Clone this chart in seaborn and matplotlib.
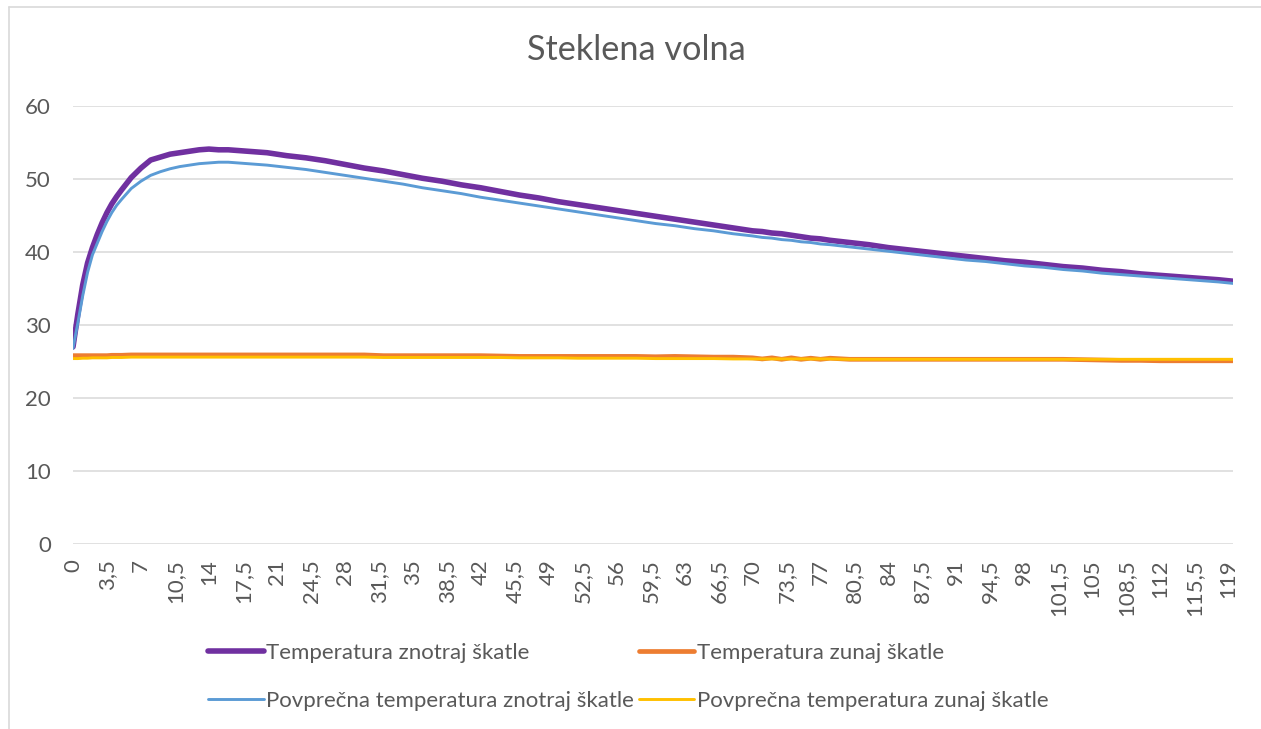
import matplotlib
matplotlib.use("Agg")
import matplotlib.pyplot as plt
import seaborn as sns
import pandas as pd
from matplotlib.lines import Line2D

# ---------------- data ----------------
time = [0, 0.5, 1, 1.5, 2, 2.5, 3, 3.5, 4, 4.5, 5,
        6, 7, 8, 9, 10, 11, 12, 13, 14, 15, 16,
        18, 20, 22, 24, 26, 28, 30, 32, 34, 36, 38, 40, 42, 44, 46, 48, 50, 52, 54, 56, 58, 60,
        62, 64, 66, 68, 70,
        71, 72, 73, 74, 75, 76, 77, 78,
        80, 82, 84, 86, 88, 90, 92, 94, 96, 98, 100, 102, 104, 106, 108, 110, 112, 114, 116, 118,
        119.5]

temp_inside = [27.0, 31.5, 35.5, 38.5, 40.6, 42.4, 44.0, 45.4, 46.6, 47.6, 48.5,
               50.2, 51.5, 52.6, 53.0, 53.4, 53.6, 53.8, 54.0, 54.1, 54.0, 54.0,
               53.8, 53.6, 53.2, 52.9, 52.5, 52.0, 51.5, 51.1, 50.6, 50.1, 49.7, 49.2, 48.8, 48.3, 47.8,
               47.4, 46.9, 46.5, 46.1, 45.7, 45.3, 44.9,
               44.5, 44.1, 43.7, 43.3, 42.9,
               42.8, 42.6, 42.5, 42.3, 42.1, 41.9, 41.8, 41.6,
               41.3, 41.0, 40.6, 40.3, 40.0, 39.7, 39.4, 39.1, 38.8, 38.6, 38.3, 38.0, 37.8, 37.5,
               37.3, 37.0, 36.8, 36.6, 36.4, 36.2,
               36.0]

temp_outside = [25.8, 25.8, 25.8, 25.8, 25.8, 25.8, 25.8, 25.8, 25.85, 25.85, 25.85,
                25.9, 25.9, 25.9, 25.9, 25.9, 25.9, 25.9, 25.9, 25.9, 25.9, 25.9,
                25.9, 25.9, 25.9, 25.9, 25.9, 25.9, 25.9, 25.8, 25.8, 25.8, 25.8, 25.8, 25.8, 25.75, 25.7,
                25.7, 25.7, 25.7, 25.7, 25.7, 25.7, 25.65,
                25.7, 25.65, 25.6, 25.6, 25.5,
                25.35, 25.5, 25.3, 25.5, 25.3, 25.45, 25.3, 25.45,
                25.3, 25.3, 25.3, 25.3, 25.3, 25.3, 25.3, 25.3, 25.3, 25.3, 25.3, 25.3, 25.25, 25.2,
                25.15, 25.15, 25.1, 25.1, 25.1, 25.1,
                25.1]

avg_inside = [26.8, 30.3, 34.0, 37.2, 39.6, 41.2, 42.8, 44.2, 45.4, 46.4, 47.2,
              48.7, 49.7, 50.5, 51.0, 51.4, 51.7, 51.9, 52.1, 52.2, 52.3, 52.3,
              52.1, 51.9, 51.6, 51.3, 50.9, 50.5, 50.1, 49.7, 49.3, 48.8, 48.4, 48.0, 47.5, 47.1, 46.7,
              46.3, 45.9, 45.5, 45.1, 44.7, 44.3, 43.9,
              43.6, 43.2, 42.9, 42.5, 42.2,
              42.0, 41.9, 41.7, 41.6, 41.4, 41.3, 41.1, 41.0,
              40.7, 40.4, 40.1, 39.8, 39.5, 39.2, 38.9, 38.7, 38.4, 38.1, 37.9, 37.6, 37.4, 37.1,
              36.9, 36.7, 36.5, 36.3, 36.1, 35.9,
              35.7]

avg_outside = [25.4, 25.4, 25.45, 25.45, 25.5, 25.5, 25.5, 25.5, 25.55, 25.55, 25.55,
               25.6, 25.6, 25.6, 25.6, 25.6, 25.6, 25.6, 25.6, 25.6, 25.6, 25.6,
               25.6, 25.6, 25.6, 25.6, 25.6, 25.6, 25.6, 25.55, 25.55, 25.55, 25.55, 25.55, 25.55, 25.55, 25.5,
               25.5, 25.5, 25.45, 25.45, 25.45, 25.45, 25.4,
               25.4, 25.4, 25.4, 25.35, 25.35,
               25.35, 25.35, 25.35, 25.35, 25.35, 25.35, 25.35, 25.35,
               25.3, 25.3, 25.3, 25.3, 25.3, 25.3, 25.3, 25.3, 25.3, 25.3, 25.3, 25.3, 25.3, 25.3,
               25.3, 25.3, 25.3, 25.3, 25.3, 25.3,
               25.3]

x_tick_values = [0, 3.5, 7, 10.5, 14, 17.5, 21, 24.5, 28, 31.5, 35, 38.5, 42, 45.5, 49, 52.5, 56,
                 59.5, 63, 66.5, 70, 73.5, 77, 80.5, 84, 87.5, 91, 94.5, 98, 101.5, 105, 108.5,
                 112, 115.5, 119]
x_tick_labels = ["0", "3,5", "7", "10,5", "14", "17,5", "21", "24,5", "28", "31,5", "35", "38,5",
                 "42", "45,5", "49", "52,5", "56", "59,5", "63", "66,5", "70", "73,5", "77", "80,5",
                 "84", "87,5", "91", "94,5", "98", "101,5", "105", "108,5", "112", "115,5", "119"]
y_ticks = [0, 10, 20, 30, 40, 50, 60]

series_names = ["Temperatura znotraj škatle", "Temperatura zunaj škatle",
                "Povprečna temperatura znotraj škatle", "Povprečna temperatura zunaj škatle"]
series_values = [temp_inside, temp_outside, avg_inside, avg_outside]
colors = ["#7030A0", "#ED7D31", "#5B9BD5", "#FFC000"]
widths = [4.0, 3.4, 2.1, 2.1]

title = "Steklena volna"

# ---------------- style ----------------
sns.set_theme(style="white")
plt.rcParams["font.family"] = ["Lato", "DejaVu Sans"]
text_color = "#595959"
grid_color = "#D9D9D9"

W, H = 1261, 729
fig = plt.figure(figsize=(W / 100, H / 100), dpi=100)
ax = fig.add_axes([73 / W, 1 - 544 / H, (1233 - 73) / W, (544 - 106) / H])

df = pd.DataFrame({"time": time})
for name, vals in zip(series_names, series_values):
    df[name] = vals

handles = []
for name, col, lw in zip(series_names, colors, widths):
    sns.lineplot(data=df, x="time", y=name, ax=ax, color=col, linewidth=lw,
                 solid_capstyle="round", solid_joinstyle="round", legend=False)
    handles.append(Line2D([0], [0], color=col, linewidth=lw, solid_capstyle="round"))

ax.set_xlim(0, 119.5)
ax.set_ylim(0, 60)
ax.set_yticks(y_ticks)
ax.set_yticklabels([str(v) for v in y_ticks])
ax.set_xticks(x_tick_values)
ax.set_xticklabels(x_tick_labels, rotation=90)
ax.set_xlabel("")
ax.set_ylabel("")
for s in ax.spines.values():
    s.set_visible(False)
ax.grid(axis="y", color=grid_color, linewidth=1.1)
ax.set_axisbelow(True)
ax.tick_params(axis="y", length=0, pad=16, labelsize=16, labelcolor=text_color)
ax.tick_params(axis="x", length=0, pad=11, labelsize=16, labelcolor=text_color)

fig.text(636 / W, 1 - 50 / H, title, ha="center", va="center", fontsize=24.7, color=text_color)

order = [0, 2, 1, 3]
leg = fig.legend([handles[i] for i in order], [series_names[i] for i in order],
                 loc="upper left", bbox_to_anchor=(208 / W, 1 - 643 / H), ncol=2,
                 frameon=False, fontsize=16, handlelength=2.5, handletextpad=0.12,
                 columnspacing=0.2, labelspacing=1.27, borderpad=0, borderaxespad=0)
for t in leg.get_texts():
    t.set_color(text_color)

# chart-area border (left and top edges visible in the reference)
fig.add_artist(Line2D([8.5 / W, 8.5 / W], [0, 1 - 6.5 / H], transform=fig.transFigure,
                      color=grid_color, linewidth=1.2))
fig.add_artist(Line2D([8.5 / W, 1], [1 - 6.5 / H, 1 - 6.5 / H], transform=fig.transFigure,
                      color=grid_color, linewidth=1.2))

fig.savefig("out.png", dpi=100, facecolor="white")
